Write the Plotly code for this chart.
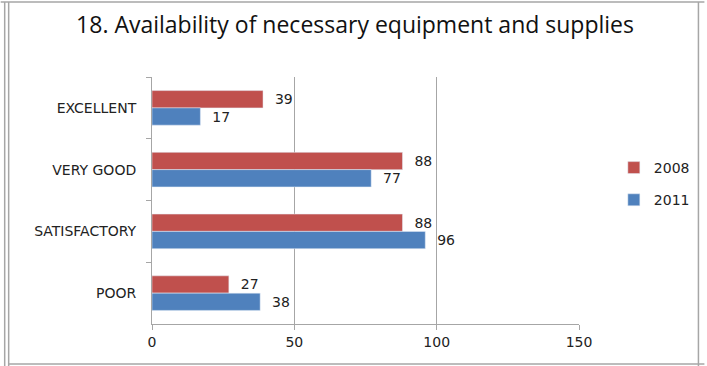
import plotly.graph_objects as go

categories = ["EXCELLENT", "VERY GOOD", "SATISFACTORY", "POOR"]
values_2008 = [39, 88, 88, 27]
values_2011 = [17, 77, 96, 38]
x_ticks = [0, 50, 100, 150]

W, H = 707, 366
L, R, T, B = 152, 126, 77, 42
pw, ph = W - L - R, H - T - B

def px(x):
    return (x - L) / pw

def py(y):
    return (H - B - y) / ph

FONT = "DejaVu Sans"
fig = go.Figure()
fig.add_trace(go.Bar(
    y=categories, x=values_2008, name="2008", orientation="h", legendgroup="a",
    marker=dict(color="#C0504D"), text=values_2008, textposition="outside",
    texttemplate="\u00a0\u00a0%{x}",
    textfont=dict(size=14, color="#222222", family=FONT), cliponaxis=False,
))
fig.add_trace(go.Bar(
    y=categories, x=values_2011, name="2011", orientation="h", legendgroup="b",
    marker=dict(color="#4F81BD"), text=values_2011, textposition="outside",
    texttemplate="\u00a0\u00a0%{x}",
    textfont=dict(size=14, color="#222222", family=FONT), cliponaxis=False,
))

line = dict(color="#A6A6A6", width=1.5)
shapes = [
    dict(type="line", xref="paper", yref="paper", x0=px(0), x1=px(W), y0=py(2), y1=py(2), line=line),
    dict(type="line", xref="paper", yref="paper", x0=px(4), x1=px(4), y0=py(2), y1=py(H), line=line),
    dict(type="line", xref="paper", yref="paper", x0=px(8), x1=px(8), y0=py(2), y1=py(H), line=line),
    dict(type="line", xref="paper", yref="paper", x0=px(701), x1=px(701), y0=py(2), y1=py(H), line=line),
    dict(type="line", xref="paper", yref="paper", x0=px(8), x1=px(W), y0=py(364), y1=py(364), line=line),
]

fig.update_layout(
    width=W, height=H,
    margin=dict(l=L, r=R, t=T, b=B),
    paper_bgcolor="white", plot_bgcolor="white",
    barmode="group", bargap=0.44, bargroupgap=0,
    title=dict(text="18. Availability of necessary equipment and supplies",
               x=px(356), xref="paper", xanchor="center",
               y=1 - 25 / H, yanchor="middle",
               font=dict(size=23, color="#111111", family="Open Sans")),
    legend=dict(x=px(616), xanchor="left", y=py(184), yanchor="middle",
                font=dict(size=14, color="#222222", family=FONT),
                tracegroupgap=11, itemwidth=30),
    shapes=shapes,
    showlegend=True,
)
fig.update_xaxes(
    range=[0, 150], tickvals=x_ticks, showgrid=True, gridcolor="#A6A6A6", gridwidth=1,
    showline=True, linecolor="#A6A6A6", linewidth=1, ticks="outside", ticklen=5,
    tickcolor="#A6A6A6", zeroline=False,
    tickfont=dict(size=14, color="#222222", family=FONT),
)
fig.update_yaxes(
    autorange="reversed", type="category", showline=True, linecolor="#A6A6A6", linewidth=1,
    ticks="outside", ticklen=5, tickcolor="#A6A6A6", tickson="boundaries",
    showgrid=False, ticklabelstandoff=12,
    tickfont=dict(size=14, color="#222222", family=FONT),
)

fig.write_html("out.html")
